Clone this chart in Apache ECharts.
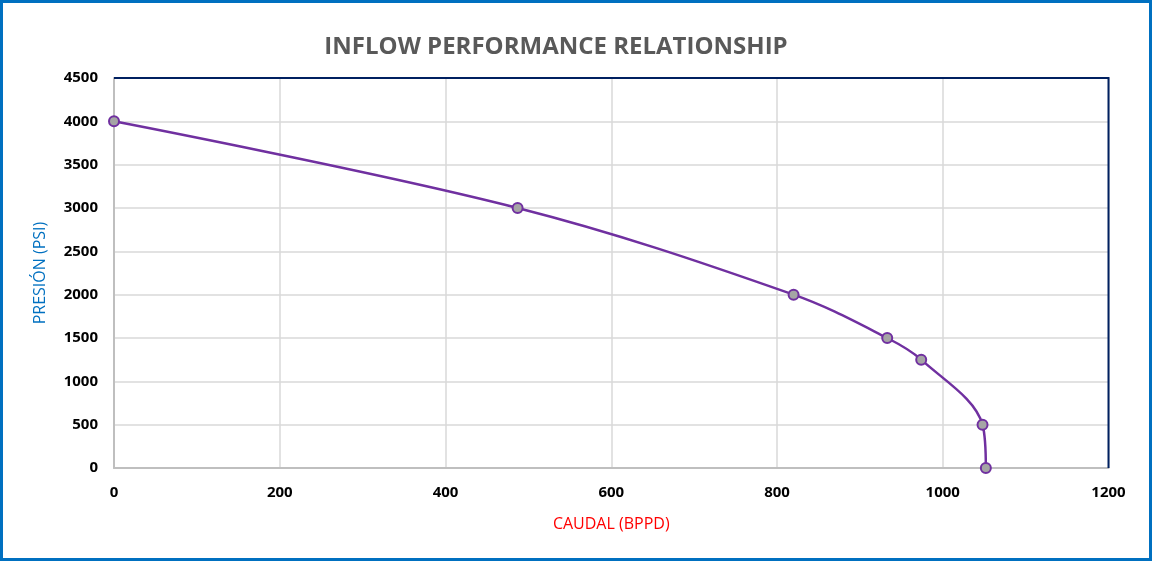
<!DOCTYPE html>
<html><head><meta charset="utf-8">
<script src="https://cdn.jsdelivr.net/npm/echarts@6/dist/echarts.min.js"></script>
<style>html,body{margin:0;padding:0;background:#fff}#c{width:1152px;height:561px}</style>
</head><body><div id="c"></div>
<script>
const caudal = [0, 487, 820, 933, 974, 1048, 1052];
const presion = [4000, 3000, 2000, 1500, 1250, 500, 0];
const xTicks = [0, 200, 400, 600, 800, 1000, 1200];
const yTicks = [0, 500, 1000, 1500, 2000, 2500, 3000, 3500, 4000, 4500];

const chart = echarts.init(document.getElementById('c'));
const font = '"Open Sans", "Noto Sans", sans-serif';
chart.setOption({
  animation: false,
  title: {
    text: 'INFLOW PERFORMANCE RELATIONSHIP',
    left: 551, top: 30, textAlign: 'center',
    textStyle: { fontFamily: font, fontSize: 24, fontWeight: 'bold', color: '#595959' }
  },
  graphic: [{
    type: 'rect', z: 100, silent: true,
    shape: { x: 1.5, y: 1.5, width: 1149, height: 558 },
    style: { fill: 'none', stroke: '#0070C0', lineWidth: 3 }
  }, {
    type: 'polyline', z: 100, silent: true,
    shape: { points: [[114, 78], [1108.5, 78], [1108.5, 468]] },
    style: { fill: 'none', stroke: '#002060', lineWidth: 2 }
  }],
  grid: { left: 114, right: 43.5, top: 78, bottom: 93 },
  xAxis: {
    type: 'value', min: xTicks[0], max: xTicks[xTicks.length - 1], interval: 200,
    name: 'CAUDAL (BPPD)', nameLocation: 'middle', nameGap: 48,
    nameTextStyle: { color: '#FF0000', fontFamily: font, fontSize: 16 },
    axisLine: { show: true, lineStyle: { color: '#BFBFBF', width: 2 } },
    axisTick: { show: false },
    axisLabel: { color: '#000', fontFamily: font, fontSize: 15, fontWeight: 'bold', margin: 17, formatter: v => String(v) },
    splitLine: { show: true, lineStyle: { color: '#D9D9D9', width: 1.5 } }
  },
  yAxis: {
    type: 'value', min: yTicks[0], max: yTicks[yTicks.length - 1], interval: 500,
    name: 'PRESIÓN (PSI)', nameLocation: 'middle', nameGap: 66,
    nameTextStyle: { color: '#0070C0', fontFamily: font, fontSize: 16 },
    axisLine: { show: true, lineStyle: { color: '#BFBFBF', width: 2 } },
    axisTick: { show: false },
    axisLabel: { color: '#000', fontFamily: font, fontSize: 15, fontWeight: 'bold', margin: 16, formatter: v => String(v) },
    splitLine: { show: true, lineStyle: { color: '#D9D9D9', width: 1.5 } }
  },
  series: [{
    type: 'line',
    data: caudal.map((x, i) => [x, presion[i]]),
    smooth: 0.35,
    symbol: 'circle', symbolSize: 10,
    lineStyle: { color: '#7030A0', width: 2.5 },
    itemStyle: { color: '#A5A5A5', borderColor: '#7030A0', borderWidth: 2 },
    z: 5
  }]
});
</script></body></html>
